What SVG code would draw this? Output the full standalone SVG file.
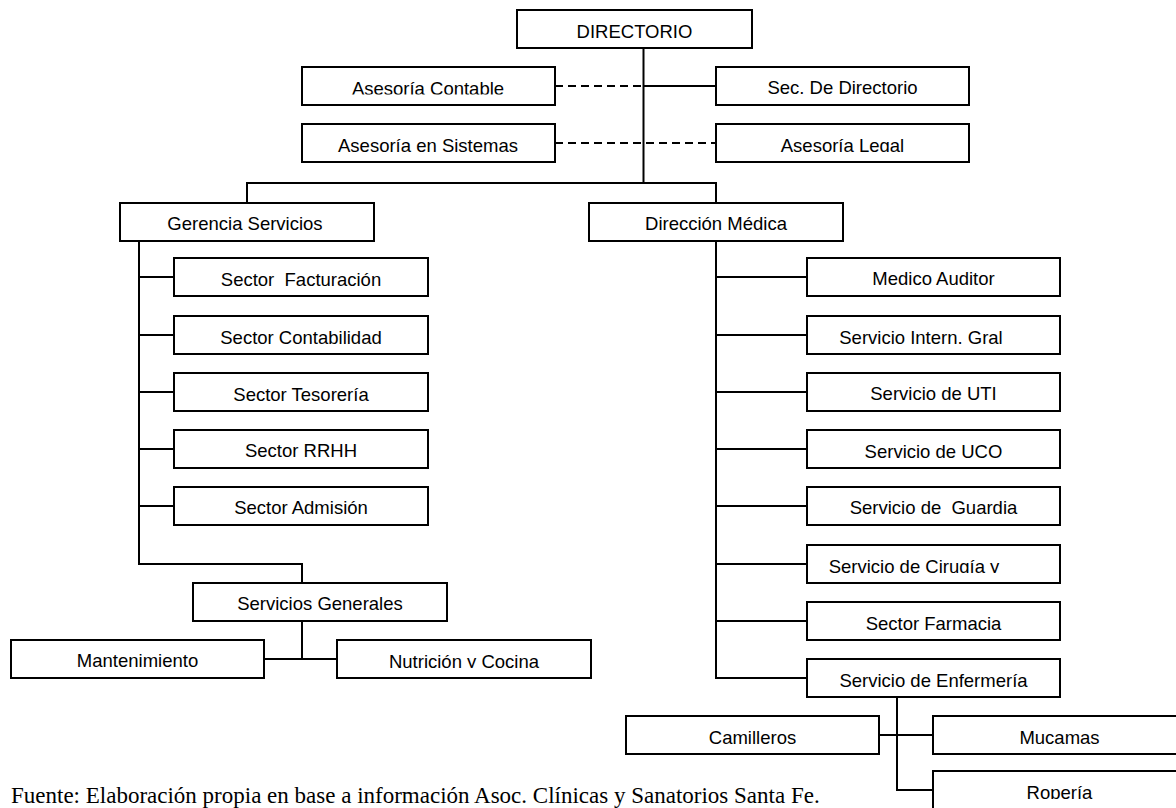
<svg xmlns="http://www.w3.org/2000/svg" width="1176" height="808" viewBox="0 0 1176 808">
<style>
.box{fill:#fff;stroke:#000;stroke-width:2}
.t{font-family:"Liberation Sans",Arial,sans-serif;font-size:18.5px;fill:#000;text-anchor:middle}
.c{clip-path:url(#cut)}
.ln{fill:none;stroke:#000;stroke-width:2}
.dash{fill:none;stroke:#000;stroke-width:2;stroke-dasharray:8 5}
.foot{font-family:"Liberation Serif","Times New Roman",serif;font-size:23px;fill:#000}
</style>
<defs>
<clipPath id="cut" clipPathUnits="objectBoundingBox"><rect x="-0.1" y="-0.1" width="1.2" height="0.915"/></clipPath>
</defs>
<rect width="1176" height="808" fill="#fff"/>
<g id="connectors">
<path class="ln" d="M643.5 48V183"/>
<path class="ln" d="M643.5 86H716"/>
<path class="dash" d="M555 86H643.5"/>
<path class="dash" d="M555 143H716"/>
<path class="ln" d="M247 203V183H716V203"/>
<path class="ln" d="M139 241V564H302V583"/>
<path class="ln" d="M139 277H174M139 335H174M139 392H174M139 449H174M139 506H174"/>
<path class="ln" d="M302 621V659M264 659H337"/>
<path class="ln" d="M716 241V678H807"/>
<path class="ln" d="M716 277H807M716 335H807M716 392H807M716 449H807M716 506H807M716 564H807M716 621H807"/>
<path class="ln" d="M897 697V790H933M879 735H933"/>
</g>
<g id="n-directorio"><rect class="box" x="517" y="10" width="235" height="38"/><text class="t" x="634.5" y="38">DIRECTORIO</text></g>
<g id="n-contable"><rect class="box" x="302" y="67" width="253" height="38"/><text class="t c" x="428" y="94.5">Asesoría Contable</text></g>
<g id="n-secdir"><rect class="box" x="716" y="67" width="253" height="38"/><text class="t" x="842.5" y="94">Sec. De Directorio</text></g>
<g id="n-sistemas"><rect class="box" x="302" y="124" width="253" height="38"/><text class="t" x="428" y="152">Asesoría en Sistemas</text></g>
<g id="n-legal"><rect class="box" x="716" y="124" width="253" height="38"/><text class="t c" x="842.5" y="152">Asesoría Legal</text></g>
<g id="n-gerencia"><rect class="box" x="120" y="203" width="254" height="38"/><text class="t" x="245" y="230">Gerencia Servicios</text></g>
<g id="n-direccion"><rect class="box" x="589" y="203" width="254" height="38"/><text class="t" x="716" y="230">Dirección Médica</text></g>
<g id="n-facturacion"><rect class="box" x="174" y="258" width="254" height="38"/><text class="t c" x="301" y="286" xml:space="preserve">Sector  Facturación</text></g>
<g id="n-contabilidad"><rect class="box" x="174" y="316" width="254" height="38"/><text class="t c" x="301" y="344">Sector Contabilidad</text></g>
<g id="n-tesoreria"><rect class="box" x="174" y="373" width="254" height="38"/><text class="t c" x="301" y="401">Sector Tesorería</text></g>
<g id="n-rrhh"><rect class="box" x="174" y="430" width="254" height="38"/><text class="t" x="301" y="457">Sector RRHH</text></g>
<g id="n-admision"><rect class="box" x="174" y="487" width="254" height="38"/><text class="t" x="301" y="514">Sector Admisión</text></g>
<g id="n-servgen"><rect class="box" x="193" y="583" width="254" height="38"/><text class="t" x="320" y="610">Servicios Generales</text></g>
<g id="n-mantenimiento"><rect class="box" x="11" y="640" width="253" height="38"/><text class="t" x="137.5" y="667">Mantenimiento</text></g>
<g id="n-nutricion"><rect class="box" x="337" y="640" width="254" height="38"/><text class="t c" x="464" y="668">Nutrición y Cocina</text></g>
<g id="n-auditor"><rect class="box" x="807" y="258" width="253" height="38"/><text class="t" x="933.5" y="285">Medico Auditor</text></g>
<g id="n-intern"><rect class="box" x="807" y="316" width="253" height="38"/><text class="t c" x="921" y="344">Servicio Intern. Gral</text></g>
<g id="n-uti"><rect class="box" x="807" y="373" width="253" height="38"/><text class="t" x="933.5" y="400">Servicio de UTI</text></g>
<g id="n-uco"><rect class="box" x="807" y="430" width="253" height="38"/><text class="t c" x="933.5" y="458">Servicio de UCO</text></g>
<g id="n-guardia"><rect class="box" x="807" y="487" width="253" height="38"/><text class="t" x="933.5" y="514" xml:space="preserve">Servicio de  Guardia</text></g>
<g id="n-cirugia"><rect class="box" x="807" y="545" width="253" height="38"/><text class="t c" x="914" y="573">Servicio de Cirugía y</text></g>
<g id="n-farmacia"><rect class="box" x="807" y="602" width="253" height="38"/><text class="t c" x="933.5" y="630">Sector Farmacia</text></g>
<g id="n-enfermeria"><rect class="box" x="807" y="659" width="253" height="38"/><text class="t c" x="933.5" y="687">Servicio de Enfermería</text></g>
<g id="n-camilleros"><rect class="box" x="626" y="716" width="253" height="38"/><text class="t c" x="752.5" y="744">Camilleros</text></g>
<g id="n-mucamas"><rect class="box" x="933" y="716" width="253" height="38"/><text class="t c" x="1059.5" y="744">Mucamas</text></g>
<g id="n-roperia"><rect class="box" x="933" y="771" width="253" height="38"/><text class="t c" x="1059.5" y="799">Ropería</text></g>
<text class="foot" x="11" y="803">Fuente: Elaboración propia en base a información Asoc. Clínicas y Sanatorios Santa Fe.</text>
</svg>
